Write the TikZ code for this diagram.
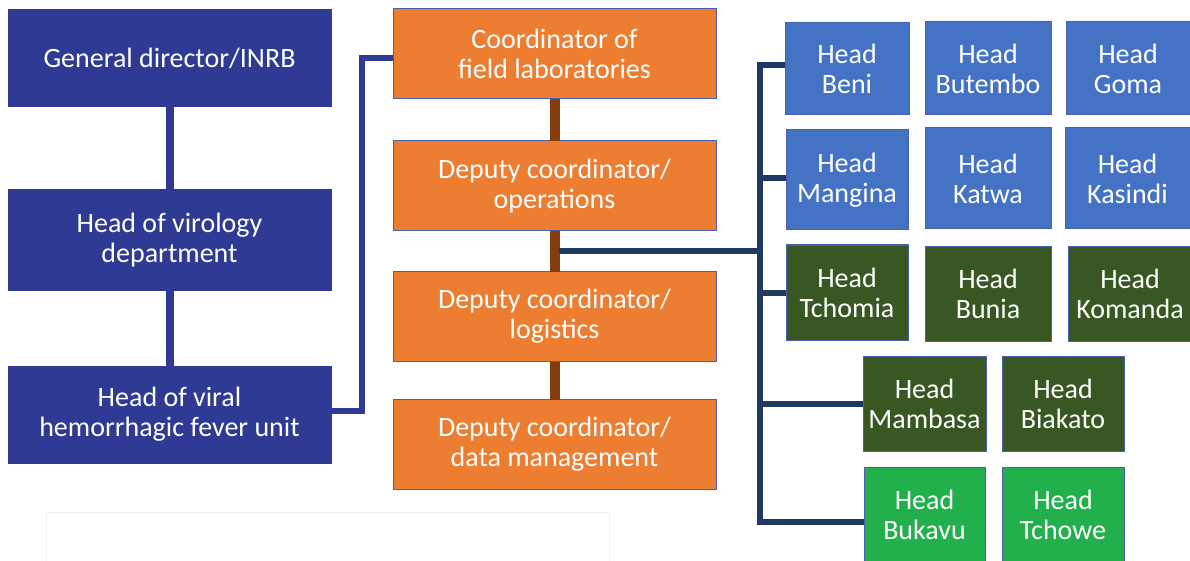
\documentclass[tikz,border=0pt]{standalone}
\usepackage{fontspec}
\setmainfont{Carlito}
\usepackage{xcolor}
\usetikzlibrary{positioning}

\definecolor{inrbblue}{HTML}{2E3A93}
\definecolor{labsorange}{HTML}{ED7D31}
\definecolor{labsbrown}{HTML}{843C0C}
\definecolor{navyline}{HTML}{1F3864}
\definecolor{siteblue}{HTML}{4472C4}
\definecolor{sitedark}{HTML}{385723}
\definecolor{sitegreen}{HTML}{21B04B}
\definecolor{edgeblue}{HTML}{4A5FB0}

\tikzset{
    box/.style={draw=edgeblue, line width=1pt, text=white, align=center,
        inner sep=0pt, outer sep=0pt, font=\fontsize{28}{30}\selectfont},
    inrb/.style={box, fill=inrbblue, draw=inrbblue, minimum width=323pt},
    coord/.style={box, fill=labsorange, minimum width=323pt, minimum height=90pt},
    site/.style={box, minimum width=124pt, minimum height=95pt},
}

\begin{document}
\begin{tikzpicture}[x=1pt, y=-1pt]
        \useasboundingbox (0,0) rectangle (1190,561);
        \fill[white] (0,0) rectangle (1190,561);
        \draw[black!6] (46,512) rectangle (609,575);

        % INRB line
        \node[inrb, minimum height=97pt] (gendir) at (169.5,58.5) {General director/INRB};
        \node[inrb, minimum height=100pt] (virology) at (169.5,240) {Head of virology\\department};
        \node[inrb, minimum height=97pt] (vhfunit) at (169.5,414.5) {Head of viral\\hemorrhagic fever unit};

        % field coordination
        \node[coord] (fieldcoord) at (554.5,54) {Coordinator of\\field laboratories};
        \node[coord] (operations) at (554.5,186) {Deputy coordinator/\\operations};
        \node[coord] (logistics) at (554.5,316.5) {Deputy coordinator/\\logistics};
        \node[coord] (datamgmt) at (554.5,444.5) {Deputy coordinator/\\data management};

        % field laboratories
        \node[site, fill=siteblue, minimum height=92pt] (beni) at (847,69) {Head\\Beni};
        \node[site, fill=siteblue, minimum height=93pt, minimum width=126pt] (butembo) at (988,68.5) {Head\\Butembo};
        \node[site, fill=siteblue, minimum height=93pt] (goma) at (1128,68.5) {Head\\Goma};
        \node[site, fill=siteblue, minimum height=100pt, minimum width=122pt] (mangina) at (847,180) {Head\\Mangina};
        \node[site, fill=siteblue, minimum height=101pt, minimum width=126pt] (katwa) at (988,178.5) {Head\\Katwa};
        \node[site, fill=siteblue, minimum height=101pt, minimum width=125pt] (kasindi) at (1127.5,178.5) {Head\\Kasindi};
        \node[site, fill=sitedark, minimum width=122pt] (tchomia) at (847,292.5) {Head\\Tchomia};
        \node[site, fill=sitedark, minimum width=126pt] (bunia) at (988,293.5) {Head\\Bunia};
        \node[site, fill=sitedark] (komanda) at (1130,293.5) {Head\\Komanda};
        \node[site, fill=sitedark, minimum width=123pt] (mambasa) at (924.5,403.5) {Head\\Mambasa};
        \node[site, fill=sitedark, minimum width=122pt] (biakato) at (1063,403.5) {Head\\Biakato};
        \node[site, fill=sitegreen, minimum width=121pt] (bukavu) at (924.5,514.5) {Head\\Bukavu};
        \node[site, fill=sitegreen, minimum width=122pt] (tchowe) at (1063,514.5) {Head\\Tchowe};

        % connectors
        \draw[inrbblue, line width=8pt] (gendir) -- (virology);
        \draw[inrbblue, line width=8pt] (virology) -- (vhfunit);
        \draw[inrbblue, line width=6pt] ([yshift=4pt]vhfunit.east) -- ++(31,0) |- ([yshift=-4pt]fieldcoord.west);

        \draw[labsbrown, line width=10pt] (fieldcoord) -- (operations);
        \draw[labsbrown, line width=10pt] (operations) -- (logistics);
        \draw[labsbrown, line width=10pt] (logistics) -- (datamgmt);

        \coordinate (tap) at (559,251);
        \coordinate (hub) at (760,251);
        \draw[navyline, line width=6pt] (tap) -- (hub);
        \draw[navyline, line width=6pt] (hub) |- ([yshift=4pt]beni.west);
        \draw[navyline, line width=6pt] (hub) |- ([yshift=2pt]mangina.west);
        \draw[navyline, line width=6pt] (hub) |- (tchomia.west);
        \draw[navyline, line width=6pt] (hub) |- (mambasa.west);
        \draw[navyline, line width=6pt] (hub) |- ([yshift=-7pt]bukavu.west);
    \end{tikzpicture}
\end{document}
